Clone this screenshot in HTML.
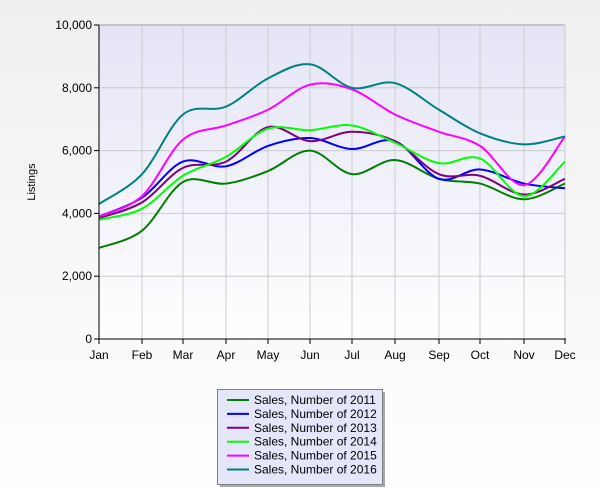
<!DOCTYPE html>
<html style="margin:0;width:600px;height:500px;background:#fff;"><head><style>
body{margin:0;width:600px;height:500px;overflow:hidden;background:linear-gradient(#efefef,#ffffff);font-family:"Liberation Sans",sans-serif;}
svg{display:block;}
</style></head><body>
<svg id="s" width="600" height="500" xmlns="http://www.w3.org/2000/svg" font-family="Liberation Sans, sans-serif">
<defs>
<linearGradient id="pg" x1="0" y1="0" x2="0" y2="1"><stop offset="0" stop-color="#e4e4f6"/><stop offset="1" stop-color="#ffffff"/></linearGradient>
</defs>
<rect x="99" y="25" width="466" height="314" fill="url(#pg)" stroke="#a0a0a0" stroke-width="1"/>
<g id="grid" stroke="#cccccc" stroke-width="1"></g>
<g id="lines" fill="none" stroke-width="2"></g>
<line x1="99" y1="25" x2="99" y2="339" stroke="#000"/>
<line x1="99" y1="339" x2="566" y2="339" stroke="#000"/>
<g id="ticks" stroke="#000"></g>
<g id="labels" font-size="12" fill="#000"></g>
<text x="35" y="182" font-size="11" transform="rotate(-90 35 182)" text-anchor="middle">Listings</text>
<rect x="220" y="392" width="165" height="95" fill="#a8a8a8"/>
<rect x="217.5" y="389.5" width="165" height="95" fill="#e6e6fa" stroke="#808080"/>
<g id="leg" font-size="12"></g>
</svg>
<script>
var xs=[99,142,183,226,268,310,352,395,439,480,524,565];
var mon=["Jan","Feb","Mar","Apr","May","Jun","Jul","Aug","Sep","Oct","Nov","Dec"];
function Y(v){return 339-v*0.0314;}
var data=[
["#008000","2011",[2900,3450,5000,4950,5350,6000,5250,5700,5100,4950,4450,4950]],
["#0000ff","2012",[3900,4500,5650,5500,6150,6400,6050,6300,5100,5400,4950,4800]],
["#800080","2013",[3850,4350,5450,5650,6750,6300,6600,6300,5250,5200,4600,5100]],
["#00ff00","2014",[3800,4150,5200,5800,6700,6650,6800,6250,5600,5750,4550,5650]],
["#ff00ff","2015",[3900,4550,6350,6800,7300,8100,7950,7150,6600,6150,4900,6450]],
["#008080","2016",[4300,5250,7150,7400,8300,8750,8000,8150,7300,6550,6200,6450]]];
var g="",t="",l="",L="",p="";
for(var i=1;i<12;i++){g+='<line x1="'+xs[i]+'" y1="25" x2="'+xs[i]+'" y2="339"/>';}
for(var v=2000;v<=8000;v+=2000){g+='<line x1="99" y1="'+Y(v)+'" x2="565" y2="'+Y(v)+'"/>';}
for(var i=0;i<12;i++){t+='<line x1="'+xs[i]+'" y1="339" x2="'+xs[i]+'" y2="344"/>';l+='<text x="'+xs[i]+'" y="359" text-anchor="middle">'+mon[i]+'</text>';}
for(var v=0;v<=10000;v+=2000){var y=Y(v);t+='<line x1="94" y1="'+y+'" x2="99" y2="'+y+'"/>';l+='<text x="92" y="'+(y+4)+'" text-anchor="end">'+(v>=1000?(Math.floor(v/1000)+','+"000"):"0")+'</text>';}
data.forEach(function(d,k){
 var P=d[2].map(function(v,i){return [xs[i],Y(v)];});
 var s="M"+P[0][0]+","+P[0][1];
 for(var i=0;i<P.length-1;i++){
  var p0=P[Math.max(i-1,0)],p1=P[i],p2=P[i+1],p3=P[Math.min(i+2,P.length-1)];
  var c1=[p1[0]+(p2[0]-p0[0])/6,p1[1]+(p2[1]-p0[1])/6],c2=[p2[0]-(p3[0]-p1[0])/6,p2[1]-(p3[1]-p1[1])/6];
  s+=" C"+c1+" "+c2+" "+p2;
 }
 p+='<path d="'+s+'" stroke="'+d[0]+'"/>';
 var y=400+k*13.9;
 L+='<line x1="227" y1="'+y+'" x2="249" y2="'+y+'" stroke="'+d[0]+'" stroke-width="2"/><text x="254" y="'+(y+4)+'">Sales, Number of '+d[1]+'</text>';
});
document.getElementById("grid").innerHTML=g;
document.getElementById("lines").innerHTML=p;
document.getElementById("ticks").innerHTML=t;
document.getElementById("labels").innerHTML=l;
document.getElementById("leg").innerHTML=L;
</script>
</body></html>
